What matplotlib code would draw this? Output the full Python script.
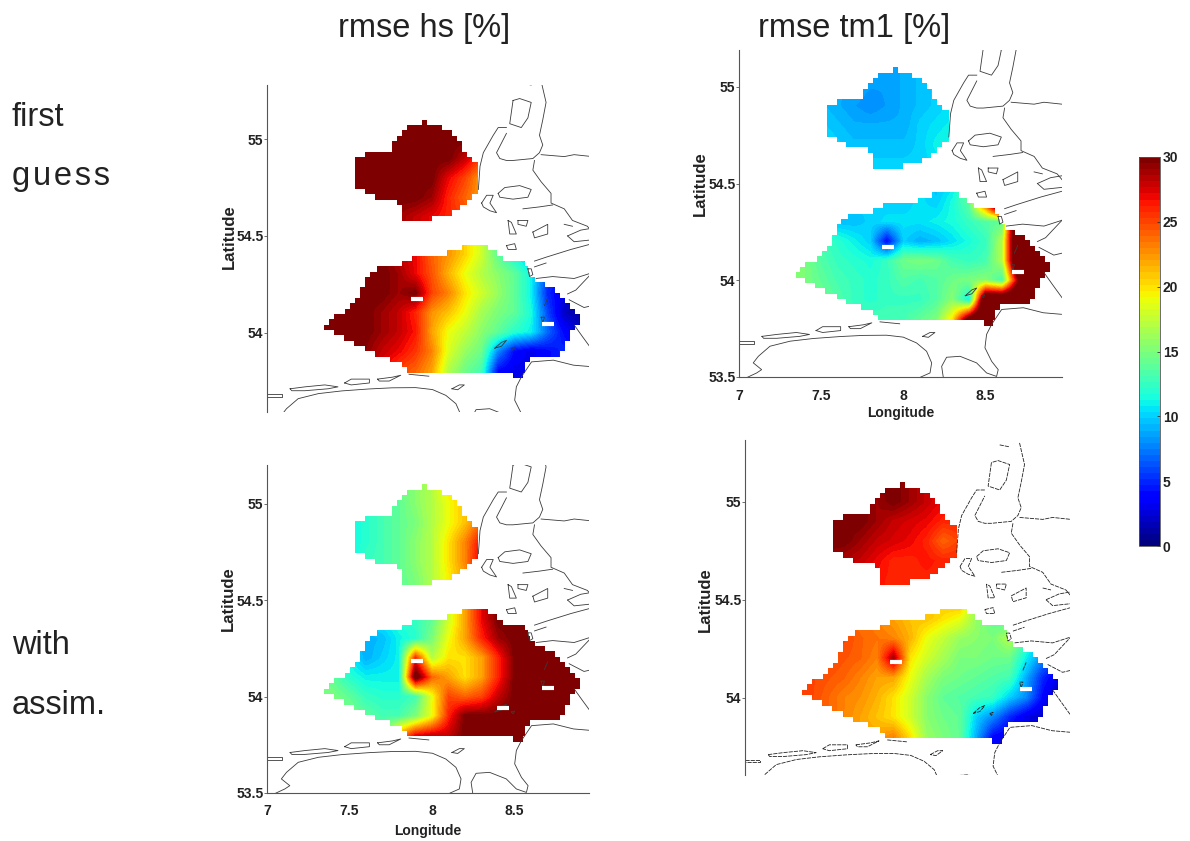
import numpy as np
import matplotlib
matplotlib.use("Agg")
import matplotlib.pyplot as plt
from matplotlib.path import Path
from matplotlib.patches import PathPatch
from matplotlib.cm import ScalarMappable
from matplotlib.colors import Normalize

plt.rcParams['font.family'] = ['Liberation Sans', 'DejaVu Sans']

W, H = 1190, 841

# ---------- grids of the value tables ----------
north_lons = [7.5, 7.6, 7.7, 7.8, 7.9, 8.0, 8.1, 8.2, 8.3]
north_lats = [55.1, 55.0, 54.9, 54.8, 54.7, 54.6, 54.5]
south_lons = [7.3, 7.4, 7.5, 7.6, 7.7, 7.8, 7.9, 8.0, 8.1, 8.2, 8.3, 8.4, 8.5, 8.6, 8.7, 8.8, 8.9, 9.0]
south_lats = [54.5, 54.4, 54.3, 54.2, 54.1, 54.0, 53.9, 53.8, 53.7]

# ---------- model domain: row extents (lon west / east), top edge of first row + row height ----------
north_top, south_top, row_h = 55.1, 54.4536, 0.0275
north_west = [7.938, 7.847, 7.817, 7.786, 7.756, 7.756, 7.595, 7.534, 7.534, 7.534, 7.534, 7.534, 7.534,
              7.595, 7.655, 7.786, 7.817, 7.817, 7.817]
north_east = [7.968, 8.058, 8.119, 8.149, 8.179, 8.179, 8.21, 8.24, 8.28, 8.28, 8.28, 8.28, 8.28,
              8.28, 8.24, 8.21, 8.169, 8.119, 7.998]
south_west = [8.179, 8.089, 7.877, 7.817, 7.665, 7.625, 7.595, 7.595, 7.565, 7.565, 7.534, 7.504, 7.474,
              7.403, 7.373, 7.347, 7.403, 7.464, 7.524, 7.595, 7.655, 7.746, 7.817, 7.847, 8.492]
south_east = [8.341, 8.391, 8.431, 8.563, 8.583, 8.593, 8.623, 8.683, 8.744, 8.774, 8.804, 8.835, 8.865,
              8.895, 8.895, 8.865, 8.835, 8.835, 8.804, 8.804, 8.774, 8.593, 8.563, 8.563, 8.552]

# ---------- rmse hs, first guess ----------
hs_first_north = [
    [30, 30, 30, 30, 30, 30, 30, 30, 30],
    [30, 30, 30, 30, 30, 30, 30, 30, 30],
    [30, 30, 30, 30, 30, 30, 30, 28, 25],
    [30, 30, 30, 30, 30, 30, 27, 25, 22],
    [30, 30, 30, 30, 30, 29, 26, 24, 22],
    [30, 30, 30, 29, 28, 27, 26, 25, 24],
    [30, 30, 30, 29, 28, 27, 26, 25, 24]]
hs_first_south = [
    [30, 30, 30, 30, 30, 28, 27, 24, 22, 20.5, 18, 14, 11, 9, 6, 4, 3, 3],
    [30, 30, 30, 30, 30, 28, 27, 24, 22.5, 20.5, 18, 14, 11, 9, 6, 4, 3, 3],
    [30, 30, 30, 30, 30, 29, 27, 24.5, 21.5, 19, 17, 15.5, 14, 11, 6, 4, 3, 3],
    [30, 30, 30, 30, 30, 29, 30, 25, 23, 20, 18, 16, 14, 11, 5, 3, 2, 2],
    [30, 30, 30, 30, 29, 28, 26, 22.5, 21, 19, 16.5, 15, 14, 11.5, 6, 2, 1, 1],
    [30, 30, 30, 30, 29, 28, 26.5, 22, 19, 17.5, 15.5, 14, 12, 11, 7, 4, 2, 2],
    [30, 30, 30, 29.5, 28, 27, 25.5, 23, 18.5, 16, 14.5, 8, 4, 3, 4, 5, 5, 5],
    [30, 30, 30, 29, 27, 25, 24, 22, 17, 14.5, 13, 4, 3, 3, 4, 5, 5, 5],
    [30, 30, 30, 29, 27, 25, 24, 22, 17, 14.5, 13, 4, 3, 3, 4, 5, 5, 5]]

# ---------- rmse tm1, first guess ----------
tm_first_north = [
    [9, 9, 9, 9, 8.5, 9, 9.5, 10, 10],
    [9, 9, 9, 8.5, 8.5, 9, 9.5, 10, 10],
    [9.5, 9, 8.5, 8, 8.5, 9, 9.5, 10, 10.5],
    [10, 9.5, 9, 9, 9, 9, 10, 10.5, 11],
    [10.5, 10, 9.5, 9.5, 9.5, 9.5, 10, 11, 11.5],
    [10.5, 10.5, 10, 10, 10, 10, 10, 10.5, 11],
    [10.5, 10.5, 10, 10, 10, 10, 10, 10.5, 11]]
tm_first_south = [
    [10, 10, 10, 10, 10, 10, 10, 10, 10.5, 9.5, 10.5, 15, 36, 42, 42, 42, 42, 42],
    [10, 10, 10, 10, 10, 10, 10, 10, 10.5, 10, 11.5, 14, 26, 42, 42, 42, 42, 42],
    [12, 12, 11, 9.5, 9.5, 10, 10.5, 10.5, 10.5, 11, 11.5, 12.5, 13.5, 14, 40, 40, 40, 40],
    [14, 14, 13, 12, 11, 10, 4, 10, 9, 9.5, 10.5, 11.5, 12.5, 17, 38, 38, 38, 38],
    [15, 15, 13.5, 12.5, 12, 11.5, 12.5, 14.5, 15, 14.5, 13, 12.5, 13, 17, 38, 38, 38, 38],
    [15, 15, 14, 13, 12.5, 12, 12.5, 13.5, 13, 13.5, 14.5, 15, 15.5, 13, 30, 38, 38, 38],
    [15, 14.5, 14.5, 13.5, 12.5, 12, 12.5, 12.5, 12.5, 13.5, 15.5, 11, 36, 36, 36, 36, 36, 36],
    [13, 13, 13, 13, 13, 13, 13, 13, 14, 15, 20, 32, 36, 36, 36, 36, 36, 36],
    [13, 13, 13, 13, 13, 13, 13, 13, 14, 15, 20, 32, 36, 36, 36, 36, 36, 36]]

# ---------- rmse hs, with assimilation ----------
hs_assim_north = [
    [12, 13, 14, 14.5, 15.5, 17, 20, 21, 22],
    [11, 12, 13, 14, 15.5, 17, 19, 21, 22],
    [11, 12, 13, 14, 15, 17, 19, 21, 24],
    [11, 12, 13, 14, 15.5, 17, 20, 23, 27],
    [11, 12.5, 13, 14, 15.5, 17, 20, 23, 28],
    [12, 13, 13.5, 14, 15, 17, 19.5, 22, 25],
    [12, 13, 13.5, 14, 15, 17, 19.5, 22, 25]]
hs_assim_south = [
    [9, 9, 9, 10, 11, 12, 12.5, 14, 18, 22, 27, 30, 30, 30, 30, 30, 30, 30],
    [9, 9, 9, 10, 11, 12, 12.5, 14, 18, 22, 27, 30, 30, 30, 30, 30, 30, 30],
    [10, 10, 10, 9, 9.5, 11, 12, 15, 19, 22, 26, 29, 30, 30, 30, 30, 30, 30],
    [13, 12, 11, 9, 10, 11, 26, 17, 20, 20, 22, 26, 30, 30, 30, 30, 30, 30],
    [14, 14, 12, 11, 11, 11, 32, 24, 22, 20, 22, 26, 30, 30, 30, 30, 30, 30],
    [15, 15, 14, 12.5, 12, 12, 13, 19, 25, 24, 25, 28, 30, 30, 30, 30, 30, 30],
    [15, 15, 15, 14, 13, 13, 15, 19, 26, 30, 30, 30, 30, 30, 30, 30, 30, 30],
    [15, 15, 15, 14, 14, 22, 27, 28, 28, 30, 30, 30, 30, 30, 30, 30, 30, 30],
    [15, 15, 15, 14, 14, 22, 27, 28, 28, 30, 30, 30, 30, 30, 30, 30, 30, 30]]

# ---------- rmse tm1, with assimilation ----------
tm_assim_north = [
    [30, 30, 30, 29.5, 30, 29, 28, 27, 27],
    [30, 30, 30, 29, 30, 29, 28, 27, 27],
    [30, 30, 30, 29, 28, 27.5, 27, 26, 26],
    [30, 30, 29, 28, 27.5, 27, 26, 24, 25],
    [29, 28.5, 28, 27, 26, 26, 26.5, 26, 26],
    [27, 27, 27, 26.5, 26, 26, 26, 26, 26],
    [27, 27, 27, 26.5, 26, 26, 26, 26, 26]]
tm_assim_south = [
    [24, 24, 24, 24, 23.5, 23, 22, 21, 21, 21, 22, 16, 14, 13, 13, 10, 8, 8],
    [24, 24, 24, 24, 23.5, 23, 22, 21, 21, 20, 19, 16, 14, 13, 13, 10, 8, 8],
    [25, 25, 25, 25, 24, 23.5, 23, 21.5, 19, 17.5, 16, 15.5, 15, 17, 13, 8, 6, 6],
    [25, 25, 25, 24.5, 24, 23, 29, 20, 18, 16.5, 15, 15, 14.5, 14.5, 11, 8, 5, 5],
    [25, 25, 24.5, 24, 23, 22, 22, 19, 16.5, 15, 14.5, 14, 13.5, 13, 9, 5, 3, 3],
    [25, 25, 24, 23, 22.5, 21.5, 20, 18, 15.5, 14, 13.5, 13, 12.5, 10, 8, 4, 1, 1],
    [24, 24, 24, 23, 22, 21, 20, 18, 15.5, 14.5, 14, 10, 8, 5, 3, 2, 2, 2],
    [23, 23, 23, 23, 22, 22, 23, 20, 16, 15, 14, 9, 4, 3, 3, 2, 2, 2],
    [23, 23, 23, 23, 22, 22, 23, 20, 16, 15, 14, 9, 4, 3, 3, 2, 2, 2]]

# ---------- coastlines (lon, lat) ----------
coast_lines = [
    ([7.05, 7.108, 7.138, 7.087, 7.118, 7.189, 7.311, 7.453, 7.616, 7.758, 7.9, 8.002, 8.083, 8.144, 8.175, 8.165, 8.104],
     [53.498, 53.521, 53.538, 53.573, 53.607, 53.659, 53.685, 53.699, 53.709, 53.715, 53.716, 53.706, 53.676, 53.633, 53.573, 53.521, 53.498]),
    ([8.246, 8.236, 8.266, 8.348, 8.449, 8.51, 8.571, 8.581, 8.541, 8.5, 8.51, 8.541, 8.602, 8.734, 8.856, 8.967],
     [53.498, 53.555, 53.602, 53.607, 53.573, 53.521, 53.503, 53.538, 53.581, 53.651, 53.72, 53.772, 53.849, 53.858, 53.832, 53.824]),
    ([8.86, 8.91, 8.97], [54.04, 53.98, 53.91]),
    ([8.83, 8.92, 8.97], [54.17, 54.13, 54.14]),
    ([8.82, 8.87, 8.97], [54.20, 54.22, 54.31]),
    ([8.63, 8.73, 8.86, 8.97], [54.28, 54.29, 54.28, 54.31]),
    ([8.62, 8.69, 8.84, 8.97], [54.37, 54.39, 54.43, 54.46]),
    ([8.62, 8.69], [54.34, 54.36]),
    ([8.66, 8.69, 8.67, 8.65, 8.67, 8.65, 8.61, 8.49, 8.45, 8.41, 8.39, 8.42, 8.45],
     [55.30, 55.19, 55.10, 55.02, 54.97, 54.93, 54.90, 54.89, 54.89, 54.90, 54.93, 54.98, 55.03]),
    ([8.45, 8.40, 8.37, 8.31, 8.29, 8.28], [55.06, 55.06, 55.02, 54.93, 54.86, 54.74]),
    ([8.66, 8.80, 8.86, 8.97], [54.92, 54.91, 54.92, 54.91]),
    ([8.62, 8.61, 8.66, 8.72, 8.72, 8.80, 8.85, 8.94, 8.97], [54.89, 54.84, 54.78, 54.72, 54.67, 54.64, 54.58, 54.55, 54.52]),
    ([8.49, 8.47, 8.54, 8.58, 8.60, 8.53, 8.49], [55.20, 55.08, 55.06, 55.11, 55.19, 55.21, 55.20]),
    ([8.54, 8.60], [55.29, 55.28]),
    ([8.40, 8.44, 8.53, 8.60, 8.58, 8.49, 8.41, 8.40], [54.72, 54.75, 54.76, 54.74, 54.70, 54.69, 54.70, 54.72]),
    ([8.30, 8.33, 8.37, 8.35, 8.39, 8.35, 8.31, 8.30], [54.67, 54.71, 54.71, 54.67, 54.62, 54.63, 54.65, 54.67]),
    ([8.46, 8.47, 8.51, 8.48, 8.46], [54.58, 54.51, 54.51, 54.57, 54.58]),
    ([8.52, 8.58, 8.57, 8.52, 8.52], [54.58, 54.58, 54.55, 54.56, 54.58]),
    ([8.61, 8.70, 8.70, 8.62, 8.61], [54.52, 54.56, 54.51, 54.49, 54.52]),
    ([8.45, 8.50, 8.51, 8.46, 8.45], [54.45, 54.46, 54.43, 54.43, 54.45]),
    ([8.82, 8.90, 8.97], [54.50, 54.53, 54.54]),
    ([8.82, 8.86, 8.97], [54.50, 54.47, 54.48]),
    ([8.80, 8.85], [54.56, 54.55]),
    ([8.55, 8.65, 8.73], [54.64, 54.65, 54.66]),
    ([7.0, 7.09, 7.09, 7.0], [53.685, 53.685, 53.67, 53.67]),
    ([7.14, 7.23, 7.35, 7.43, 7.37, 7.23, 7.15, 7.14], [53.71, 53.72, 53.73, 53.72, 53.71, 53.70, 53.70, 53.71]),
    ([7.47, 7.51, 7.62, 7.62, 7.51, 7.47], [53.74, 53.76, 53.76, 53.74, 53.73, 53.74]),
    ([7.67, 7.76, 7.81, 7.74, 7.68, 7.67], [53.76, 53.77, 53.78, 53.75, 53.75, 53.76]),
    ([7.86, 7.98], [53.785, 53.775]),
    ([8.12, 8.165, 8.195, 8.155, 8.12], [53.71, 53.73, 53.73, 53.705, 53.71]),
    ([8.38, 8.42, 8.45, 8.42, 8.38], [53.92, 53.95, 53.96, 53.93, 53.92]),
    ([8.48, 8.50, 8.49, 8.48], [53.92, 53.925, 53.91, 53.92]),
    ([8.58, 8.60, 8.61, 8.59, 8.58], [54.33, 54.33, 54.30, 54.29, 54.33]),
    ([8.66, 8.68, 8.67, 8.66], [54.08, 54.08, 54.05, 54.08]),
    ([8.68, 8.70], [54.14, 54.18]),
]

# ---------- dry cells shown in white ----------
hole_lon_hs_first = [7.91, 8.70]
hole_lat_hs_first = [54.175, 54.045]
hole_lon_tm_first = [7.91, 8.70]
hole_lat_tm_first = [54.17, 54.045]
hole_lon_hs_assim = [7.91, 8.70, 8.43]
hole_lat_hs_assim = [54.185, 54.045, 53.94]
hole_lon_tm_assim = [7.91, 8.70]
hole_lat_tm_assim = [54.18, 54.045]

# ---------- labels ----------
col_titles = ["rmse hs [%]", "rmse tm1 [%]"]
row_labels = ["first", "g\u200au\u200ae\u200as\u200as", "with", "assim."]
lon_ticks = [7, 7.5, 8, 8.5]
lat_ticks_full = [53.5, 54, 54.5, 55]
lat_ticks_short = [54, 54.5, 55]
cbar_ticks = [0, 5, 10, 15, 20, 25, 30]

cmap = plt.get_cmap('jet', 64)
norm = Normalize(0, 30)
GREY = '#555555'
INK = '#222222'

fig = plt.figure(figsize=(W / 100, H / 100), dpi=100)


def px_axes(l, t, r, b):
    return fig.add_axes([l / W, 1 - b / H, (r - l) / W, (b - t) / H])


def row_path(west, east, top, h):
    verts = []
    for i, x in enumerate(east):
        verts += [(x, top - i * h), (x, top - (i + 1) * h)]
    for i, x in reversed(list(enumerate(west))):
        verts += [(x, top - (i + 1) * h), (x, top - i * h)]
    verts.append(verts[0])
    return Path(verts, closed=True)


def panel(box, xlim, ylim, north, south, hole_lon, hole_lat, yticks, ylab_xy, xpads=None, dashed=False):
    ax = px_axes(*box)
    for vals, lons, lats, west, east, top in [
            (north, north_lons, north_lats, north_west, north_east, north_top),
            (south, south_lons, south_lats, south_west, south_east, south_top)]:
        dx = (lons[1] - lons[0]) / 2
        dy = (lats[0] - lats[1]) / 2
        im = ax.imshow(np.array(vals, float), cmap=cmap, norm=norm, aspect='auto',
                       interpolation='bilinear', interpolation_stage='data',
                       extent=[lons[0] - dx, lons[-1] + dx, lats[-1] - dy, lats[0] + dy],
                       origin='upper', zorder=1)
        clip = PathPatch(row_path(west, east, top, row_h), transform=ax.transData, fc='none', ec='none')
        ax.add_patch(clip)
        im.set_clip_path(clip)
    ls = (0, (5, 1.2)) if dashed else '-'
    col = '#222222' if dashed else '#3a3a3a'
    for lon, lat in coast_lines:
        ax.plot(lon, lat, color=col, lw=0.6, ls=ls, zorder=2)
    ax.plot(hole_lon, hole_lat, ls='none', marker='_', ms=8, mew=3, color='white', zorder=3)
    ax.set_xlim(*xlim)
    ax.set_ylim(*ylim)
    for s in ['top', 'right']:
        ax.spines[s].set_visible(False)
    ax.spines['left'].set_color(GREY)
    ax.spines['bottom'].set_color(GREY)
    ax.spines['bottom'].set_visible(xpads is not None)
    ax.set_yticks(yticks)
    ax.set_yticklabels([f"{v:g}" for v in yticks], fontsize=10, fontweight='bold', color=INK)
    ax.tick_params(axis='y', length=2, width=0.6, color=GREY, pad=0.5)
    fig.text(ylab_xy[0] / W, 1 - ylab_xy[1] / H, 'Latitude', rotation=90, ha='center', va='center',
             fontsize=12, fontweight='bold', color=INK)
    if xpads is not None:
        ax.set_xticks(lon_ticks)
        ax.set_xticklabels([f"{v:g}" for v in lon_ticks], fontsize=10, fontweight='bold', color=INK)
        ax.tick_params(axis='x', length=0, pad=xpads[0])
        ax.set_xlabel('Longitude', fontsize=10, fontweight='bold', color=INK, labelpad=xpads[1])
    else:
        ax.set_xticks([])
    return ax


panel((267, 85, 589, 412), (7, 8.95), (53.59, 55.28), hs_first_north, hs_first_south,
      hole_lon_hs_first, hole_lat_hs_first, lat_ticks_short, (229, 237))
panel((739, 50, 1062, 377), (7, 8.97), (53.5, 55.19), tm_first_north, tm_first_south,
      hole_lon_tm_first, hole_lat_tm_first, lat_ticks_full, (700, 184), xpads=(9, 2))
panel((267, 465, 589, 793), (7, 8.95), (53.5, 55.2), hs_assim_north, hs_assim_south,
      hole_lon_hs_assim, hole_lat_hs_assim, lat_ticks_full, (228, 599), xpads=(8, 4))
panel((745, 440, 1070, 775), (7, 8.965), (53.606, 55.315), tm_assim_north, tm_assim_south,
      hole_lon_tm_assim, hole_lat_tm_assim, lat_ticks_short, (705, 600), dashed=True)

# colour bar
cax = px_axes(1139, 157, 1160, 546)
cb = fig.colorbar(ScalarMappable(norm=norm, cmap=cmap), cax=cax, ticks=cbar_ticks)
cb.ax.tick_params(labelsize=10, length=2, width=0.6, direction='in', color='#333333', pad=2)
for t in cb.ax.get_yticklabels():
    t.set_fontweight('bold')
    t.set_color(INK)
cb.outline.set_edgecolor(GREY)
cb.outline.set_linewidth(0.6)

# big labels
for txt, x in zip(col_titles, [424, 854]):
    fig.text(x / W, 1 - 28 / H, txt, ha='center', va='center', fontsize=23.5, color=INK)
for txt, y in zip(row_labels, [117, 176, 645, 705]):
    fig.text(12 / W, 1 - y / H, txt, ha='left', va='center', fontsize=23.5, color=INK)

fig.savefig('out.png', dpi=100)
